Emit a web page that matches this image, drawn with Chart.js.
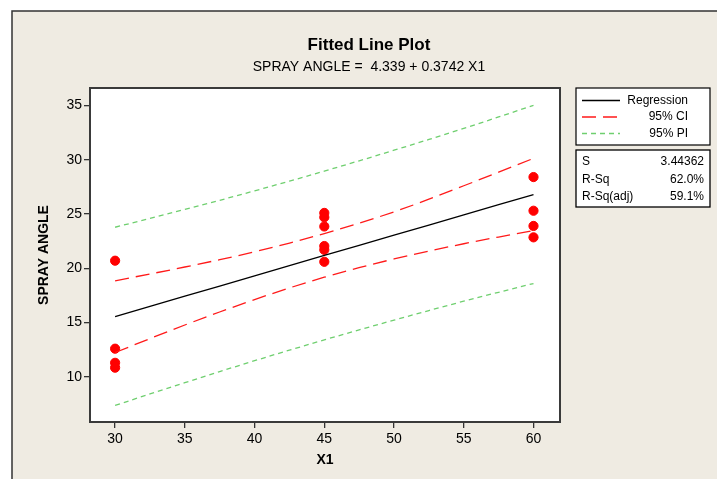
<!DOCTYPE html>
<html>
<head>
<meta charset="utf-8">
<script src="https://cdn.jsdelivr.net/npm/chart.js@4/dist/chart.umd.min.js"></script>
<style>
  html, body { margin: 0; padding: 0; background: #ffffff; }
  #wrap { width: 717px; height: 479px; }
</style>
</head>
<body>
<div id="wrap"><canvas id="plot" width="717" height="479"></canvas></div>
<script>
// observed data
const x30 = [20.7, 12.6, 11.3, 10.85];
const x45 = [25.1, 24.7, 23.85, 22.05, 21.7, 20.6];
const x60 = [28.4, 25.3, 23.9, 22.85];

// fitted line and bands
const fitX = [30, 35, 40, 45, 50, 55, 60];
const fitY = [15.56, 17.43, 19.31, 21.18, 23.05, 24.92, 26.79];
const ciUpper = [18.85, 20.12, 21.52, 23.2, 25.2, 27.6, 30.12];
const ciLower = [12.25, 14.78, 17.12, 19.18, 20.86, 22.26, 23.48];
const piUpper = [23.78, 25.42, 27.13, 28.95, 30.87, 32.88, 35.0];
const piLower = [7.38, 9.47, 11.49, 13.41, 15.23, 16.97, 18.6];

const xTicks = [30, 35, 40, 45, 50, 55, 60];
const yTicks = [10, 15, 20, 25, 30, 35];

const statLabels = ["S", "R-Sq", "R-Sq(adj)"];
const statValues = ["3.44362", "62.0%", "59.1%"];

const FONT = "'Liberation Sans', Arial, sans-serif";
const RED = "#ff1a1a";
const GREEN = "#6fcf6f";

function pairs(xs, ys) {
    return xs.map((x, i) => ({x: x, y: ys[i]}));
}

let points = [];
x30.forEach(v => points.push({x: 30, y: v}));
x45.forEach(v => points.push({x: 45, y: v}));
x60.forEach(v => points.push({x: 60, y: v}));

const framePlugin = {
    id: "frame",
    beforeDraw(chart) {
        const c = chart.ctx;
        const a = chart.chartArea;
        c.save();
        c.fillStyle = "#ffffff";
        c.fillRect(0, 0, chart.width, chart.height);
        c.fillStyle = "#efebe2";
        c.fillRect(12, 11, chart.width - 12, chart.height - 11);
        c.strokeStyle = "#333333";
        c.lineWidth = 1.5;
        c.beginPath();
        c.moveTo(12, chart.height);
        c.lineTo(12, 11);
        c.lineTo(chart.width, 11);
        c.stroke();
        c.fillStyle = "#ffffff";
        c.fillRect(a.left, a.top, a.right - a.left, a.bottom - a.top);
        c.restore();
    },
    afterDraw(chart) {
        const c = chart.ctx;
        const a = chart.chartArea;
        c.save();
        // plot border
        c.strokeStyle = "#3a3a3a";
        c.lineWidth = 2;
        c.strokeRect(a.left, a.top, a.right - a.left, a.bottom - a.top);

        // titles
        c.fillStyle = "#000000";
        c.textAlign = "center";
        c.textBaseline = "middle";
        c.font = "bold 17px " + FONT;
        c.fillText("Fitted Line Plot", 369, 45);
        c.font = "14px " + FONT;
        c.fillText("SPRAY ANGLE =  4.339 + 0.3742 X1", 369, 67);

        // legend box
        c.fillStyle = "#ffffff";
        c.fillRect(576, 88, 134, 57);
        c.strokeStyle = "#000000";
        c.lineWidth = 1.2;
        c.strokeRect(576, 88, 134, 57);
        const rows = [
            {label: "Regression", color: "#000000", dash: [], y: 100.5},
            {label: "95% CI", color: RED, dash: [14, 7], y: 117},
            {label: "95% PI", color: GREEN, dash: [5, 4], y: 133.5}
        ];
        rows.forEach(r => {
            c.strokeStyle = r.color;
            c.setLineDash(r.dash);
            c.lineWidth = 1.3;
            c.beginPath();
            c.moveTo(582, r.y);
            c.lineTo(620, r.y);
            c.stroke();
            c.setLineDash([]);
            c.fillStyle = "#000000";
            c.font = "12px " + FONT;
            c.textAlign = "right";
            c.fillText(r.label, 688, r.y);
        });

        // stats box
        c.fillStyle = "#ffffff";
        c.fillRect(576, 150, 134, 57);
        c.strokeStyle = "#000000";
        c.strokeRect(576, 150, 134, 57);
        statLabels.forEach((s, i) => {
            const y = 162 + i * 17.5;
            c.fillStyle = "#000000";
            c.font = "12px " + FONT;
            c.textAlign = "left";
            c.fillText(s, 582, y);
            c.textAlign = "right";
            c.fillText(statValues[i], 704, y);
        });
        c.restore();
    }
};

function lineSet(label, ys, color, dash) {
    return {
        type: "line",
        label: label,
        data: pairs(fitX, ys),
        borderColor: color,
        borderWidth: 1.3,
        borderDash: dash,
        pointRadius: 0,
        fill: false,
        tension: 0.35
    };
}

new Chart(document.getElementById("plot"), {
    type: "scatter",
    data: {
        datasets: [
            lineSet("Regression", fitY, "#000000", []),
            lineSet("95% CI upper", ciUpper, RED, [14, 7]),
            lineSet("95% CI lower", ciLower, RED, [14, 7]),
            lineSet("95% PI upper", piUpper, GREEN, [5, 4]),
            lineSet("95% PI lower", piLower, GREEN, [5, 4]),
            {
                label: "SPRAY ANGLE",
                data: points,
                backgroundColor: "#ff0000",
                borderColor: "#ff0000",
                pointRadius: 4.6,
                pointHoverRadius: 4.6
            }
        ]
    },
    options: {
        responsive: false,
        animation: false,
        events: [],
        layout: {padding: {left: 36, top: 88, right: 157, bottom: 8}},
        plugins: {
            legend: {display: false},
            tooltip: {enabled: false}
        },
        scales: {
            x: {
                type: "linear",
                min: 28.2,
                max: 61.9,
                afterBuildTicks: s => { s.ticks = xTicks.map(v => ({value: v})); },
                afterFit: s => { s.height = 49; },
                grid: {drawOnChartArea: false, drawTicks: true, tickLength: 6, color: "#333333", lineWidth: 1.3},
                border: {display: false},
                ticks: {color: "#000000", font: {family: FONT, size: 14}, padding: 3, maxRotation: 0},
                title: {display: true, text: "X1", color: "#000000", font: {family: FONT, size: 14, weight: "bold"}, padding: {top: 2, bottom: 2}}
            },
            y: {
                type: "linear",
                min: 5.85,
                max: 36.6,
                afterBuildTicks: s => { s.ticks = yTicks.map(v => ({value: v})); },
                afterFit: s => { s.width = 54; },
                grid: {drawOnChartArea: false, drawTicks: true, tickLength: 6, color: "#333333", lineWidth: 1.3},
                border: {display: false},
                ticks: {color: "#000000", font: {family: FONT, size: 14}, padding: 2},
                title: {display: true, text: "SPRAY ANGLE", color: "#000000", font: {family: FONT, size: 14, weight: "bold"}, padding: {top: 0, bottom: 0}}
            }
        }
    },
    plugins: [framePlugin]
});
</script>
</body>
</html>
